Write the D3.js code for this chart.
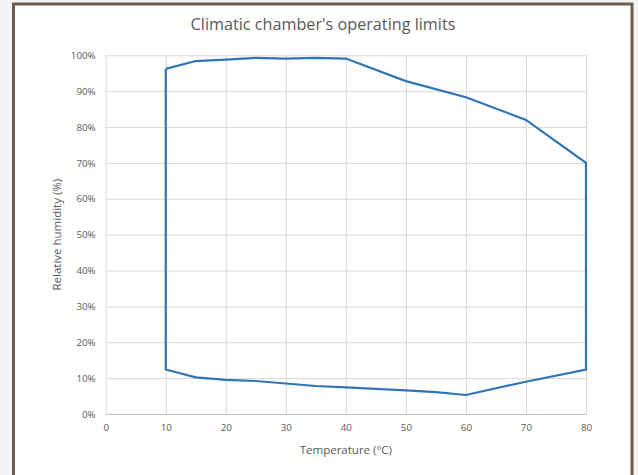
<!DOCTYPE html>
<html>
<head>
<meta charset="utf-8">
<script src="https://cdn.jsdelivr.net/npm/d3@7"></script>
<style>
  body { margin: 0; background: #f4f4f4; }
  svg { display: block; }
</style>
</head>
<body>
<div id="vis"></div>
<script>
const FRAME_HEIGHT = 475;
const FRAME_WIDTH = 638;
const MARGINS = {left: 105.7, right: 52, top: 55.3, bottom: 61};
const VIS_HEIGHT = FRAME_HEIGHT - MARGINS.top - MARGINS.bottom;
const VIS_WIDTH = FRAME_WIDTH - MARGINS.left - MARGINS.right;

// outline of the operating area: upper limit left to right, then lower limit right to left
const temperature = [10, 15, 20, 25, 30, 35, 40, 50, 60, 70, 80,
                     80, 70, 60, 55, 50, 40, 35, 30, 25, 20, 15, 10, 10];
const humidity = [96.2, 98.4, 98.8, 99.3, 99.1, 99.3, 99.1, 92.8, 88.3, 82.0, 70.0,
                  12.4, 9.0, 5.3, 6.1, 6.6, 7.4, 7.8, 8.5, 9.2, 9.5, 10.2, 12.4, 96.2];

const xTicks = [0, 10, 20, 30, 40, 50, 60, 70, 80];
const yTicks = [0, 10, 20, 30, 40, 50, 60, 70, 80, 90, 100];

const FONT = "'Open Sans', sans-serif";
const TEXT_COLOR = "#595959";

const FRAME = d3.select("#vis")
                .append("svg")
                .attr("height", FRAME_HEIGHT)
                .attr("width", FRAME_WIDTH);

// chart area with border
FRAME.append("rect")
     .attr("x", 13.5)
     .attr("y", 4)
     .attr("width", 618.5)
     .attr("height", 480)
     .attr("fill", "#ffffff")
     .attr("stroke", "#6b5d4f")
     .attr("stroke-width", 3);

const X_SCALE = d3.scaleLinear()
                  .domain([0, 80])
                  .range([0, VIS_WIDTH]);

const Y_SCALE = d3.scaleLinear()
                  .domain([0, 100])
                  .range([VIS_HEIGHT, 0]);

const plot = FRAME.append("g")
                  .attr("transform", "translate(" + MARGINS.left + "," + MARGINS.top + ")");

// gridlines
plot.append("g")
    .call(d3.axisLeft(Y_SCALE).tickValues(yTicks).tickSize(-VIS_WIDTH).tickFormat(""))
    .call(g => g.select(".domain").remove())
    .call(g => g.selectAll("line").attr("stroke", "#d9d9d9"));

plot.append("g")
    .attr("transform", "translate(0," + VIS_HEIGHT + ")")
    .call(d3.axisBottom(X_SCALE).tickValues(xTicks).tickSize(VIS_HEIGHT).tickFormat(""))
    .call(g => g.select(".domain").remove())
    .call(g => g.selectAll("line").attr("stroke", "#d9d9d9").attr("transform", "translate(0," + (-VIS_HEIGHT) + ")"));

// x axis
plot.append("g")
    .attr("transform", "translate(0," + VIS_HEIGHT + ")")
    .call(d3.axisBottom(X_SCALE).tickValues(xTicks).tickSize(0).tickPadding(10))
    .call(g => g.select(".domain").attr("stroke", "#bfbfbf"))
    .call(g => g.selectAll("text").attr("fill", TEXT_COLOR).attr("font-size", "9.8px").attr("font-family", FONT));

// y axis
plot.append("g")
    .call(d3.axisLeft(Y_SCALE).tickValues(yTicks).tickSize(0).tickPadding(10)
            .tickFormat(d => d + "%"))
    .call(g => g.select(".domain").remove())
    .call(g => g.selectAll("text").attr("fill", TEXT_COLOR).attr("font-size", "9.8px").attr("font-family", FONT));

// outline
const points = temperature.map((t, i) => [t, humidity[i]]);

plot.append("path")
    .datum(points)
    .attr("fill", "none")
    .attr("stroke", "#2e75b6")
    .attr("stroke-width", 2.2)
    .attr("stroke-linejoin", "miter")
    .attr("d", d3.line().x(d => X_SCALE(d[0])).y(d => Y_SCALE(d[1])));

// titles
FRAME.append("text")
     .attr("x", 323)
     .attr("y", 30)
     .attr("text-anchor", "middle")
     .attr("font-family", FONT)
     .attr("font-size", "16.2px")
     .attr("fill", TEXT_COLOR)
     .text("Climatic chamber's operating limits");

FRAME.append("text")
     .attr("x", MARGINS.left + X_SCALE(40))
     .attr("y", 454)
     .attr("text-anchor", "middle")
     .attr("font-family", FONT)
     .attr("font-size", "11.5px")
     .attr("fill", TEXT_COLOR)
     .text("Temperature (°C)");

FRAME.append("text")
     .attr("transform", "translate(61," + (MARGINS.top + Y_SCALE(50)) + ") rotate(-90)")
     .attr("text-anchor", "middle")
     .attr("font-family", FONT)
     .attr("font-size", "11.5px")
     .attr("fill", TEXT_COLOR)
     .text("Relative humidity (%)");
</script>
</body>
</html>
